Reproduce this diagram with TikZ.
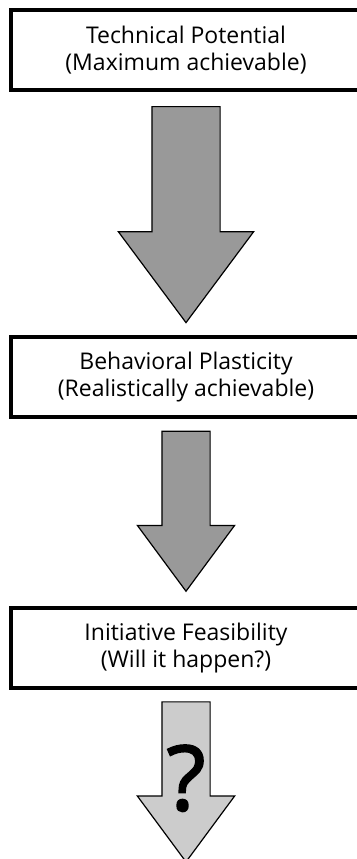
\documentclass[tikz,border=0pt]{standalone}
\usepackage{fontspec}
\setmainfont{Open Sans}
\newfontfamily\qmarkfont[FakeBold=2]{Open Sans}
\usetikzlibrary{positioning, shapes.arrows}

\tikzset{
	stage/.style={draw, line width=4pt, minimum width=350pt, minimum height=80pt, align=center, font=\fontsize{23}{27}\selectfont},
	bigflow/.style={single arrow, draw, line width=1.2pt, fill=black!40, shape border rotate=270, inner sep=33.5pt,
		minimum height=216pt, single arrow head extend=33.5pt, single arrow tip angle=73.3},
	flow/.style={single arrow, draw, line width=1.2pt, fill=black!40, shape border rotate=270, inner sep=23.5pt,
		minimum height=160pt, single arrow head extend=24.5pt, single arrow tip angle=72.9}
}

\begin{document}
\begin{tikzpicture}[x=1pt, y=-1pt]
			\useasboundingbox (0,0) rectangle (356,859);

			\node[stage] (tech) at (186,50) {Technical Potential\\(Maximum achievable)};
			\node[bigflow, below=14pt of tech] (a1) {};
			\node[stage, below=11pt of a1] (behav) {Behavioral Plasticity\\(Realistically achievable)};
			\node[flow, below=12pt of behav] (a2) {};
			\node[stage, below=14pt of a2] (init) {Initiative Feasibility\\(Will it happen?)};
			\node[flow, fill=black!20, below=11pt of init] (a3) {};

			% unknown outcome
			\node[font=\fontsize{90}{90}\qmarkfont, inner sep=0pt] (q) at ([yshift=-77pt]a3.tail) {?};
		\end{tikzpicture}
\end{document}
